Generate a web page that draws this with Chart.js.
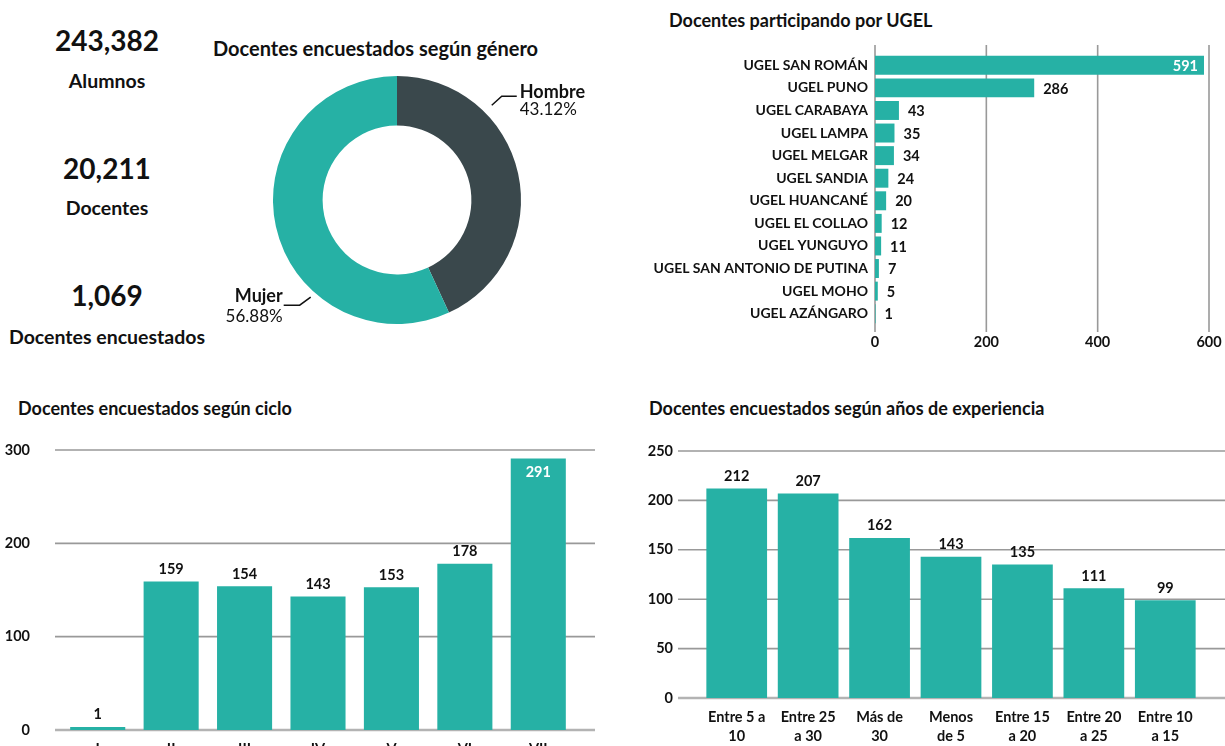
<!DOCTYPE html>
<html>
<head>
<meta charset="utf-8">
<script src="https://cdn.jsdelivr.net/npm/chart.js@4.4.1/dist/chart.umd.min.js"></script>
<style>
  html, body { margin:0; padding:0; background:#fff; overflow:hidden; }
  body { width:1225px; height:746px; position:relative; font-family: Lato, sans-serif; color:#111; }
  .kpi { position:absolute; left:0; width:214px; text-align:center; font-weight:bold; line-height:1; }
  .num { font-size:28px; }
  .lbl { font-size:19.5px; }
  .ttl { position:absolute; font-weight:bold; white-space:nowrap; line-height:1; }
  canvas { position:absolute; }
</style>
</head>
<body>
<div class="kpi num" style="top:26px">243,382</div>
<div class="kpi lbl" style="top:71px">Alumnos</div>
<div class="kpi num" style="top:154px">20,211</div>
<div class="kpi lbl" style="top:198px">Docentes</div>
<div class="kpi num" style="top:281px">1,069</div>
<div class="kpi lbl" style="top:327px">Docentes encuestados</div>

<div class="ttl" style="left:213px; top:38px; font-size:20px">Docentes encuestados según género</div>
<div class="ttl" style="left:669px; top:11px; font-size:18px">Docentes participando por UGEL</div>
<div class="ttl" style="left:18px; top:399px; font-size:18px">Docentes encuestados según ciclo</div>
<div class="ttl" style="left:649px; top:399px; font-size:18px">Docentes encuestados según años de experiencia</div>

<canvas id="genero" width="420" height="280" style="left:200px; top:60px"></canvas>
<canvas id="ugel" width="585" height="360" style="left:640px; top:0px"></canvas>
<canvas id="ciclo" width="620" height="316" style="left:0px; top:430px"></canvas>
<canvas id="exp" width="585" height="316" style="left:640px; top:430px"></canvas>

<script>
const TEAL = '#26b1a5';
const DARK = '#3a484c';

const generoLabels = ['Hombre', 'Mujer'];
const generoValues = [43.12, 56.88];

const ugelLabels = ['UGEL SAN ROMÁN', 'UGEL PUNO', 'UGEL CARABAYA', 'UGEL LAMPA', 'UGEL MELGAR', 'UGEL SANDIA',
    'UGEL HUANCANÉ', 'UGEL EL COLLAO', 'UGEL YUNGUYO', 'UGEL SAN ANTONIO DE PUTINA', 'UGEL MOHO', 'UGEL AZÁNGARO'];
const ugelValues = [591, 286, 43, 35, 34, 24, 20, 12, 11, 7, 5, 1];
const ugelTicks = [0, 200, 400, 600];

const cicloLabels = ['I', 'II', 'III', 'IV', 'V', 'VI', 'VII'];
const cicloValues = [1, 159, 154, 143, 153, 178, 291];
const cicloTicks = [0, 100, 200, 300];

const expLabels = [['Entre 5 a', '10'], ['Entre 25', 'a 30'], ['Más de', '30'], ['Menos', 'de 5'],
    ['Entre 15', 'a 20'], ['Entre 20', 'a 25'], ['Entre 10', 'a 15']];
const expValues = [212, 207, 162, 143, 135, 111, 99];
const expTicks = [0, 50, 100, 150, 200, 250];

Chart.defaults.font.family = 'Lato';
Chart.defaults.color = '#111';
Chart.defaults.animation = false;

// grid lines that run a bit past the plot area, like the original
const gridExt = {
    id: 'gridExt',
    beforeDatasetsDraw(chart, args, o) {
        const { ctx, chartArea: a } = chart;
        const sc = chart.scales[o.scale];
        ctx.save();
        sc.ticks.forEach(t => {
            const p = sc.getPixelForValue(t.value);
            const zero = t.value === 0 && o.zeroWidth;
            ctx.beginPath();
            ctx.strokeStyle = zero ? o.zeroColor : o.color;
            ctx.lineWidth = zero ? o.zeroWidth : o.width;
            if (sc.isHorizontal()) {
                ctx.moveTo(p, a.top - o.before); ctx.lineTo(p, a.bottom + o.after);
            } else {
                ctx.moveTo(a.left - o.before, p); ctx.lineTo(a.right + o.after, p);
            }
            ctx.stroke();
        });
        ctx.restore();
    }
};

// numbers on the bars (inside in white when the bar nearly hits the edge)
const valueLabels = {
    id: 'valueLabels',
    afterDatasetsDraw(chart) {
        const ctx = chart.ctx, a = chart.chartArea;
        const vals = chart.data.datasets[0].data;
        const horiz = chart.options.indexAxis === 'y';
        ctx.save();
        ctx.font = 'bold 14.5px Lato';
        chart.getDatasetMeta(0).data.forEach((bar, i) => {
            const txt = String(vals[i]);
            if (horiz) {
                const inside = a.right - bar.x < 30;
                ctx.textBaseline = 'middle';
                ctx.textAlign = inside ? 'right' : 'left';
                ctx.fillStyle = inside ? '#fff' : '#111';
                ctx.fillText(txt, inside ? bar.x - 6 : bar.x + 9, bar.y + 1);
            } else {
                const inside = bar.y - a.top < 30;
                ctx.textAlign = 'center';
                ctx.textBaseline = inside ? 'top' : 'bottom';
                ctx.fillStyle = inside ? '#fff' : '#111';
                ctx.fillText(txt, bar.x, inside ? bar.y + 7 : bar.y - 5);
            }
        });
        ctx.restore();
    }
};

// callout labels of the doughnut
const donutLabels = {
    id: 'donutLabels',
    afterDatasetsDraw(chart) {
        const ctx = chart.ctx;
        const arc = chart.getDatasetMeta(0).data[0];
        const cx = arc.x, cy = arc.y, r = arc.outerRadius;
        const vals = chart.data.datasets[0].data;
        const labs = chart.data.labels;
        ctx.save();
        ctx.strokeStyle = '#111';
        ctx.lineWidth = 1.5;
        ctx.fillStyle = '#111';
        ctx.textBaseline = 'middle';

        // Hombre, upper right
        let a1 = Math.PI / 4, sx = cx + (r + 10) * Math.sin(a1), sy = cy - (r + 10) * Math.cos(a1);
        ctx.beginPath(); ctx.moveTo(sx, sy); ctx.lineTo(sx + 10, sy - 9); ctx.lineTo(sx + 25, sy - 9); ctx.stroke();
        ctx.textAlign = 'left';
        ctx.font = 'bold 18px Lato';
        ctx.fillText(labs[0], sx + 28, sy - 13);
        ctx.font = '17px Lato';
        ctx.fillText(vals[0].toFixed(2) + '%', sx + 28, sy + 4);

        // Mujer, lower left
        let a2 = 221.6 * Math.PI / 180;
        sx = cx + (r + 6) * Math.sin(a2); sy = cy - (r + 6) * Math.cos(a2);
        ctx.beginPath(); ctx.moveTo(sx, sy); ctx.lineTo(sx - 11, sy + 8); ctx.lineTo(sx - 27, sy + 8); ctx.stroke();
        ctx.textAlign = 'right';
        ctx.font = 'bold 18px Lato';
        ctx.fillText(labs[1], sx - 28, sy - 1);
        ctx.font = '17px Lato';
        ctx.fillText(vals[1].toFixed(2) + '%', sx - 28, sy + 19);
        ctx.restore();
    }
};

const boldTick = { weight: 'bold', size: 14.5 };
// keep tick padding from eating into the plot area
const noPad = s => { s.paddingTop = 0; s.paddingBottom = 0; s.paddingLeft = 0; s.paddingRight = 0; };

new Chart(document.getElementById('genero'), {
    type: 'doughnut',
    data: { labels: generoLabels, datasets: [{ data: generoValues, backgroundColor: [DARK, TEAL], borderWidth: 0 }] },
    options: {
        responsive: false, cutout: '60%',
        layout: { padding: { left: 0, right: 26, top: 16, bottom: 16 } },
        plugins: { legend: { display: false }, tooltip: { enabled: false } }
    },
    plugins: [donutLabels]
});

new Chart(document.getElementById('ugel'), {
    type: 'bar',
    data: { labels: ugelLabels, datasets: [{ data: ugelValues, backgroundColor: TEAL, categoryPercentage: 1, barPercentage: 0.84 }] },
    options: {
        responsive: false, indexAxis: 'y',
        layout: { padding: { left: 0, right: 16, top: 54, bottom: 0 } },
        plugins: { legend: { display: false }, tooltip: { enabled: false },
            gridExt: { scale: 'x', before: 9, after: 7, color: '#999', width: 1.6 } },
        scales: {
            x: { min: 0, max: 600, afterBuildTicks: s => { s.ticks = ugelTicks.map(v => ({ value: v })); },
                grid: { display: false, drawTicks: false }, border: { display: false },
                ticks: { padding: 9, font: boldTick }, afterFit: s => { s.height = 35; noPad(s); } },
            y: { grid: { display: false, drawTicks: false }, border: { display: false },
                ticks: { padding: 7, font: { weight: 'bold', size: 14 } }, afterFit: s => { s.width = 235; noPad(s); } }
        }
    },
    plugins: [gridExt, valueLabels]
});

new Chart(document.getElementById('ciclo'), {
    type: 'bar',
    data: { labels: cicloLabels, datasets: [{ data: cicloValues, backgroundColor: TEAL, categoryPercentage: 1, barPercentage: 0.75, minBarLength: 3 }] },
    options: {
        responsive: false,
        layout: { padding: { left: 0, right: 45, top: 20, bottom: 0 } },
        plugins: { legend: { display: false }, tooltip: { enabled: false },
            gridExt: { scale: 'y', before: 6, after: 20, color: '#999', width: 1.6, zeroColor: '#b3b3b3', zeroWidth: 2.5 } },
        scales: {
            x: { grid: { display: false, drawTicks: false }, border: { display: false },
                ticks: { padding: 11, font: boldTick }, afterFit: s => { s.height = 16; noPad(s); } },
            y: { min: 0, max: 300, afterBuildTicks: s => { s.ticks = cicloTicks.map(v => ({ value: v })); },
                grid: { display: false, drawTicks: false }, border: { display: false },
                ticks: { padding: 31, font: boldTick }, afterFit: s => { s.width = 61; noPad(s); } }
        }
    },
    plugins: [gridExt, valueLabels]
});

new Chart(document.getElementById('exp'), {
    type: 'bar',
    data: { labels: expLabels, datasets: [{ data: expValues, backgroundColor: TEAL, categoryPercentage: 1, barPercentage: 0.85 }] },
    options: {
        responsive: false,
        layout: { padding: { left: 0, right: 24, top: 21, bottom: 0 } },
        plugins: { legend: { display: false }, tooltip: { enabled: false },
            gridExt: { scale: 'y', before: 23, after: 24, color: '#999', width: 1.6, zeroColor: '#b3b3b3', zeroWidth: 2.5 } },
        scales: {
            x: { grid: { display: false, drawTicks: false }, border: { display: false },
                ticks: { padding: 10, font: { weight: 'bold', size: 14.5, lineHeight: 1.3 }, maxRotation: 0, autoSkip: false },
                afterFit: s => { s.height = 48; noPad(s); } },
            y: { min: 0, max: 250, afterBuildTicks: s => { s.ticks = expTicks.map(v => ({ value: v })); },
                grid: { display: false, drawTicks: false }, border: { display: false },
                ticks: { padding: 28, font: boldTick }, afterFit: s => { s.width = 61; noPad(s); } }
        }
    },
    plugins: [gridExt, valueLabels]
});
</script>
</body>
</html>
